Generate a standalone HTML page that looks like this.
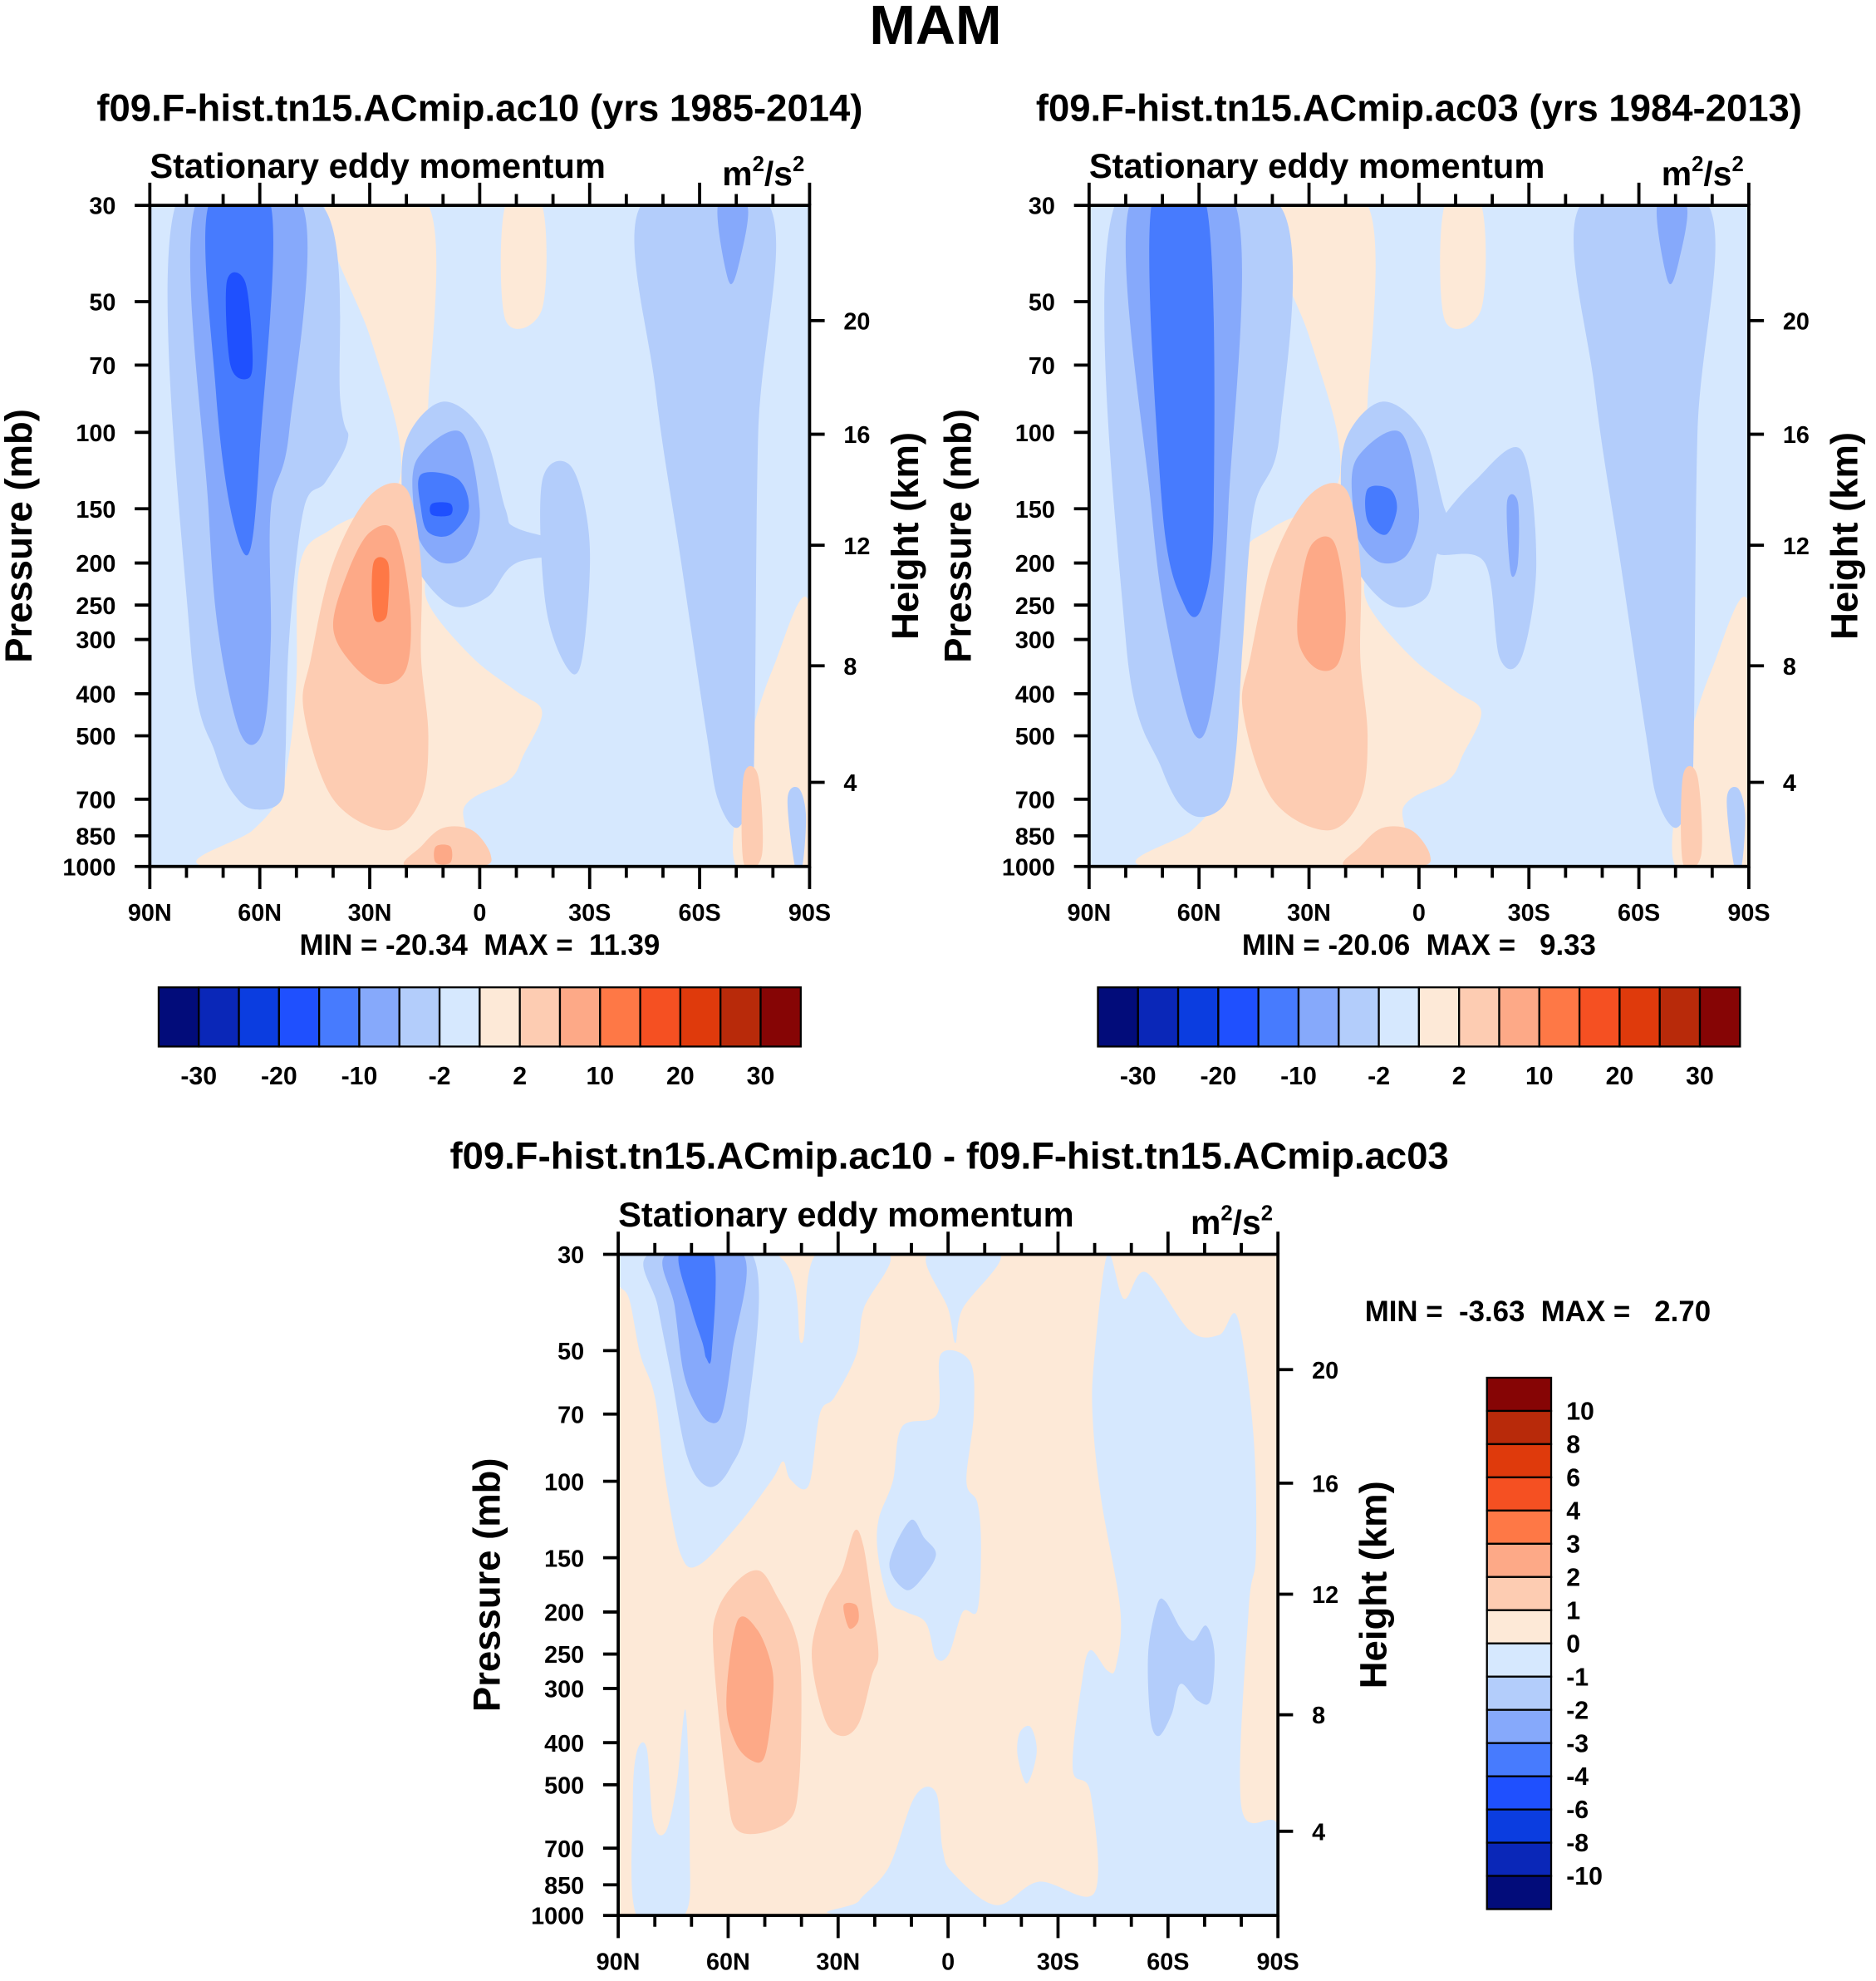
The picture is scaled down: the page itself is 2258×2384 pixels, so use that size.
<!DOCTYPE html>
<html><head><meta charset="utf-8"><style>
html,body{margin:0;padding:0;background:#fff}
svg{display:block}
text{font-family:"Liberation Sans",Arial,sans-serif;font-weight:bold;fill:#000}
</style></head><body>
<svg id="fig" width="2258" height="2384" viewBox="0 0 1490 1573" xmlns="http://www.w3.org/2000/svg">
<text x="743" y="35" font-size="44" text-anchor="middle">MAM</text>
</svg>
<script>
// ---- data ----
const colors16 = ["#020c7a","#0a27b8","#0b3de0","#1f50fe","#477bfe","#86a9fb","#b3cdfb","#d6e8fe","#fde9d7","#fdccb2","#fda987","#fe7846","#f55022","#df3a0c","#b82a0a","#860505"];
const pTicks = [30,50,70,100,150,200,250,300,400,500,700,850,1000];
const latTicks = [90,60,30,0,-30,-60,-90];
const latTickLabels = ["90N","60N","30N","0","30S","60S","90S"];
const heightTicks = [20,16,12,8,4];
const heightTickP = [55.3,101,182,345,640];
const cbarLabelsTop = ["-30","-20","-10","-2","2","10","20","30"];
const cbarLabelsDiff = ["10","8","6","4","3","2","1","0","-1","-2","-3","-4","-6","-8","-10"];
// contour regions: level index + [lat, pressure] vertices
const shapesA = [
 [8,[[42,30],[14,30],[14,85],[17,125],[12,150],[14,200],[14,248],[2,330],[-10,395],[-17,440],[-12,553],[-8,633],[4,724],[9,1000],[75,1000],[62,826],[55,700],[52,553],[50,370],[49,200],[40,166],[24,140],[22,104],[30,60]]],
 [8,[[-7,30],[-17,30],[-17,52],[-7,55]]],
 [8,[[-90,250],[-80,350],[-73,553],[-70,1000],[-90,1000]]],
 [6,[[83,30],[43,30],[38,85],[36,104],[42,130],[48,150],[52,300],[53,553],[54,700],[60,740],[66,700],[72,553],[79,300]]],
 [5,[[77.6,30],[48.4,30],[52,100],[57,150],[57,300],[59,485],[65,500],[71,300],[74,150]]],
 [4,[[74,30],[57,30],[60,110],[63,190],[68,150],[72,80]]],
 [3,[[69,45],[64,45],[62,65],[63,75],[68,70]]],
 [6,[[-44,30],[-79,30],[-76,100],[-75,500],[-74,700],[-70,815],[-65,700],[-62,500],[-55,200],[-48,80]]],
 [5,[[-65,30],[-73,30],[-71,40],[-68,45]]],
 [6,[[20,104],[10,85],[-1,100],[-7,150],[-10,166],[-25,180],[-27,190],[-10,200],[-2,240],[8,250],[18,200],[21,150]]],
 [5,[[17,115],[5,100],[0,150],[3,190],[10,200],[16,180],[18,150]]],
 [4,[[16,125],[6,128],[3,150],[8,172],[14,170],[16,150]]],
 [3,[[13,146],[8,146],[8,155],[13,155]]],
 [6,[[-17,130],[-25,120],[-30,180],[-28,330],[-24,350],[-18,250]]],
 [9,[[30,140],[20,135],[16,200],[16,330],[14,500],[16,700],[25,826],[40,700],[48,440],[46,330],[40,200]]],
 [10,[[30,170],[23,170],[19,250],[20,350],[27,380],[35,340],[40,280],[36,210]]],
 [11,[[29,200],[25,200],[25,250],[26,270],[29,265]]],
 [9,[[10,815],[2,826],[-3,940],[0,1000],[20,1000],[16,900]]],
 [10,[[12,900],[8,900],[8,980],[12,980]]],
 [9,[[-72,620],[-76,620],[-77,940],[-72,980]]],
 [6,[[-84,700],[-87,660],[-89,760],[-88,1000],[-86,1000]]]
];
const shapesB = [
 [8,[[42,30],[14,30],[14,85],[17,125],[12,150],[14,200],[14,248],[2,330],[-10,395],[-17,440],[-12,553],[-8,633],[4,724],[9,1000],[75,1000],[62,826],[55,700],[52,553],[50,370],[49,200],[40,166],[24,140],[22,104],[30,60]]],
 [8,[[-7,30],[-17,30],[-17,52],[-7,55]]],
 [8,[[-90,250],[-80,350],[-73,553],[-70,1000],[-90,1000]]],
 [6,[[83,30],[38,30],[38,100],[45,150],[48,300],[50,553],[53,720],[62,760],[70,600],[80,300]]],
 [5,[[79,30],[50,30],[52,150],[56,400],[61,500],[68,300],[73,150]]],
 [4,[[73,30],[58,30],[56,150],[59,250],[64,250],[70,150]]],
 [6,[[-44,30],[-79,30],[-76,100],[-75,500],[-74,700],[-70,815],[-65,700],[-62,500],[-55,200],[-48,80]]],
 [5,[[-65,30],[-73,30],[-71,40],[-68,45]]],
 [6,[[20,104],[10,85],[-1,100],[-7,150],[-10,166],[-5,190],[-2,240],[8,250],[18,200],[21,150]]],
 [5,[[17,115],[5,100],[0,150],[3,190],[10,200],[16,180],[18,150]]],
 [4,[[14,135],[8,135],[6,150],[9,172],[14,160]]],
 [6,[[-15,130],[-28,110],[-32,200],[-28,330],[-22,330],[-18,200],[-5,190],[-5,165]]],
 [5,[[-24,145],[-27,145],[-27,200],[-25,210]]],
 [9,[[30,140],[20,135],[16,200],[16,330],[14,500],[16,700],[25,826],[40,700],[48,440],[46,330],[40,200]]],
 [10,[[29,180],[23,180],[20,260],[22,340],[28,350],[33,300],[32,220]]],
 [9,[[10,815],[2,826],[-3,940],[0,1000],[20,1000],[16,900]]],
 [9,[[-72,620],[-76,620],[-77,940],[-72,980]]],
 [6,[[-84,700],[-87,660],[-89,760],[-88,1000],[-86,1000]]]
];
const shapesD = [
 [7,[[90,30],[47,30],[40,48],[36,30],[16,30],[23,40],[25,51],[31,64],[35,70],[38,102],[43,99],[45,90],[48,99],[57,125],[68,156],[73,147],[77,100],[80,64],[84,51],[87,38],[90,35]]],
 [7,[[5.6,30],[-14.3,30],[-4,40],[-2,48],[0,40]]],
 [7,[[2,51],[-6,53],[-7,70],[-5,100],[-8,112],[-9,141],[-8,198],[-4,200],[-0.2,250],[3.3,255],[6,212],[11.4,200],[16,189],[19,150],[19,123],[15,99.5],[12.6,75],[3,70]]],
 [7,[[-43.5,30],[-48,38],[-54,33],[-66,45],[-74,46],[-79,42],[-83.3,78],[-84,147],[-82,198],[-80,560],[-90,620],[-90,1000],[24.3,1000],[24.3,926],[16.1,772],[9.1,533],[3.3,521],[1.5,703],[-1.4,800],[-13.1,947],[-24.8,836],[-40,885],[-38.8,520],[-34,460],[-36.5,290],[-38.8,245],[-43.5,273],[-45.8,267],[-47,198],[-41.7,109],[-39.4,70],[-40,51]]],
 [7,[[71.6,337],[70.5,687],[72,1000],[85,1000],[86,559],[85,422],[82.2,413],[80.4,612],[77,641],[74,497]]],
 [7,[[-22.5,368],[-24.2,420],[-21.5,497],[-19,430],[-19.5,380]]],
 [6,[[81.6,30],[53.5,30],[54.7,70],[59.4,93],[65.2,103],[71,88.5],[75.7,56],[79.2,39.5]]],
 [5,[[76.9,30],[55.9,30],[58.8,50],[61.7,70],[65.2,73],[68.7,67],[72.2,56],[74.6,39.5]]],
 [4,[[73.4,30],[64,30],[64.5,51],[66,52],[67,48],[70,40]]],
 [6,[[10.3,123],[6.5,135],[3.3,147],[6.5,165],[11.4,178],[16,155]]],
 [6,[[-59.3,189],[-63.4,218],[-66.9,233],[-70.4,215],[-72.7,250],[-71.6,320],[-68.1,320],[-63.4,293],[-61,344],[-57.5,386],[-55.2,352],[-54.6,250],[-57,193]]],
 [9,[[64,250],[62.9,198],[57,168],[51.2,161],[46.5,185],[41.8,223],[40.1,281],[40.7,497],[44.2,612],[57,641],[60.5,497]]],
 [10,[[57.5,210],[52,220],[48,270],[48,330],[50,430],[53.5,440],[58,400],[60.5,320]]],
 [9,[[25.5,130],[29,161],[33.7,189],[37.2,250],[33.7,352],[29,386],[24.3,360],[20.8,281],[19,250],[20.8,189],[23.1,141]]],
 [10,[[28.5,193],[25,193],[24.5,210],[27,218]]]
];
// ---- drawing ----
const NS="http://www.w3.org/2000/svg";
const svg=document.getElementById('fig');
function mk(tag,attrs,parent){const e=document.createElementNS(NS,tag);for(const k in attrs)e.setAttribute(k,attrs[k]);(parent||svg).appendChild(e);return e;}
function txt(s,x,y,size,anchor,parent){const t=mk('text',{x:x,y:y,'font-size':size,'text-anchor':anchor||'start'},parent);t.textContent=s;return t;}
function smoothPath(pts){
 const n=pts.length;let d=`M${pts[0][0].toFixed(1)},${pts[0][1].toFixed(1)}`;
 for(let i=0;i<n;i++){const p0=pts[(i-1+n)%n],p1=pts[i],p2=pts[(i+1)%n],p3=pts[(i+2)%n];
  const c1=[p1[0]+(p2[0]-p0[0])/6,p1[1]+(p2[1]-p0[1])/6],c2=[p2[0]-(p3[0]-p1[0])/6,p2[1]-(p3[1]-p1[1])/6];
  d+=`C${c1[0].toFixed(1)},${c1[1].toFixed(1)} ${c2[0].toFixed(1)},${c2[1].toFixed(1)} ${p2[0].toFixed(1)},${p2[1].toFixed(1)}`;}
 return d+'Z';}
function panel(name,x0,y0,shapes,bgLvl,title,tx,ty){
 const W=524,H=525;
 const g=mk('g',{});
 
 
 const xs=lat=>x0+(90-lat)/180*W;
 const ys=p=>y0+Math.log(p/30)/Math.log(1000/30)*H;
 const cp=mk('clipPath',{id:name+'-clip'},g);mk('rect',{x:x0,y:y0,width:W,height:H},cp);
 const field=mk('g',{'clip-path':`url(#${name}-clip)`},g);
 const bg=mk('rect',{x:x0,y:y0,width:W,height:H,fill:colors16[bgLvl]},field);
 
 
 shapes.forEach((s,i)=>{const pts=s[1].map(q=>[xs(q[0]),ys(q[1])]);
  const pa=mk('path',{d:smoothPath(pts),fill:colors16[s[0]]},field);
  
  });
 const fr=mk('rect',{x:x0,y:y0,width:W,height:H,fill:'none',stroke:'#000','stroke-width':2.5},g);
 
 
 pTicks.forEach(p=>{const y=ys(p);mk('line',{x1:x0-12,x2:x0,y1:y,y2:y,stroke:'#000','stroke-width':2.5},g);
  const t=txt(String(p),x0-27,y+7,19,'end',g);
  
  });
 for(let lat=90;lat>=-90;lat-=10){const x=xs(lat);const major=lat%30===0;const L=major?18:9;
  mk('line',{x1:x,x2:x,y1:y0,y2:y0-L,stroke:'#000','stroke-width':2.5},g);
  mk('line',{x1:x,x2:x,y1:y0+H,y2:y0+H+L,stroke:'#000','stroke-width':2.5},g);}
 latTicks.forEach((lat,i)=>{const t=txt(latTickLabels[i],xs(lat),y0+H+43,19,'middle',g);
  
  });
 heightTicks.forEach((h,i)=>{const y=ys(heightTickP[i]);mk('line',{x1:x0+W,x2:x0+W+12,y1:y,y2:y,stroke:'#000','stroke-width':2.5},g);
  const t=txt(String(h),x0+W+27,y+7,19,'start',g);
  
  });
 const yl=txt('Pressure (mb)',0,0,30,'middle',g);yl.setAttribute('transform',`translate(${x0-94},${y0+H/2}) rotate(-90)`);
 
 
 const hl=txt('Height (km)',0,0,30,'middle',g);hl.setAttribute('transform',`translate(${x0+W+86},${y0+H/2}) rotate(-90)`);
 
 
 const lt=txt('Stationary eddy momentum',x0,y0-22,27.5,'start',g);
 
 
 const un=mk('text',{x:x0+W-4,y:y0-16,'font-size':27,'text-anchor':'end'},g);
 un.innerHTML='m<tspan dy="-11" font-size="17">2</tspan><tspan dy="11">/s</tspan><tspan dy="-11" font-size="17">2</tspan>';
 
 
 const tt=txt(title,tx,ty,30,'middle',g);
 
 
 return g;}
function hbar(name,x0,y0,labelY){
 const g=mk('g',{});
 
 
 const w=510/16;
 colors16.forEach((c,i)=>{const r=mk('rect',{x:x0+i*w,y:y0,width:w,height:47,fill:c,stroke:'#000','stroke-width':1.5},g);
  
  });
 cbarLabelsTop.forEach((s,i)=>{const t=txt(s,x0+w*(1+2*i),labelY,20,'middle',g);
  
  });}
panel('panel-ac10',119,163,shapesA,7,'f09.F-hist.tn15.ACmip.ac10 (yrs 1985-2014)',381,96);
panel('panel-ac03',865,163,shapesB,7,'f09.F-hist.tn15.ACmip.ac03 (yrs 1984-2013)',1127,96);
panel('panel-diff',491,996,shapesD,8,'f09.F-hist.tn15.ACmip.ac10 - f09.F-hist.tn15.ACmip.ac03',754,928);
const m1=txt('MIN = -20.34  MAX =  11.39',381,758,23,'middle');


m1.style.whiteSpace='pre';
const m2=txt('MIN = -20.06  MAX =   9.33',1127,758,23,'middle');


m2.style.whiteSpace='pre';
const m3=txt('MIN =  -3.63  MAX =   2.70',1084,1049,23,'start');


m3.style.whiteSpace='pre';
hbar('colorbar-ac10',126,784,861);
hbar('colorbar-ac03',872,784,861);
// vertical colorbar
const vg=mk('g',{});


const vh=422/16;
for(let i=0;i<16;i++){const r=mk('rect',{x:1181,y:1094+i*vh,width:51,height:vh,fill:colors16[15-i],stroke:'#000','stroke-width':1.5},vg);
 
 }
cbarLabelsDiff.forEach((s,i)=>{const t=txt(s,1244,1094+vh*(i+1)+7,20,'start',vg);
 
 });
</script>
</body></html>
